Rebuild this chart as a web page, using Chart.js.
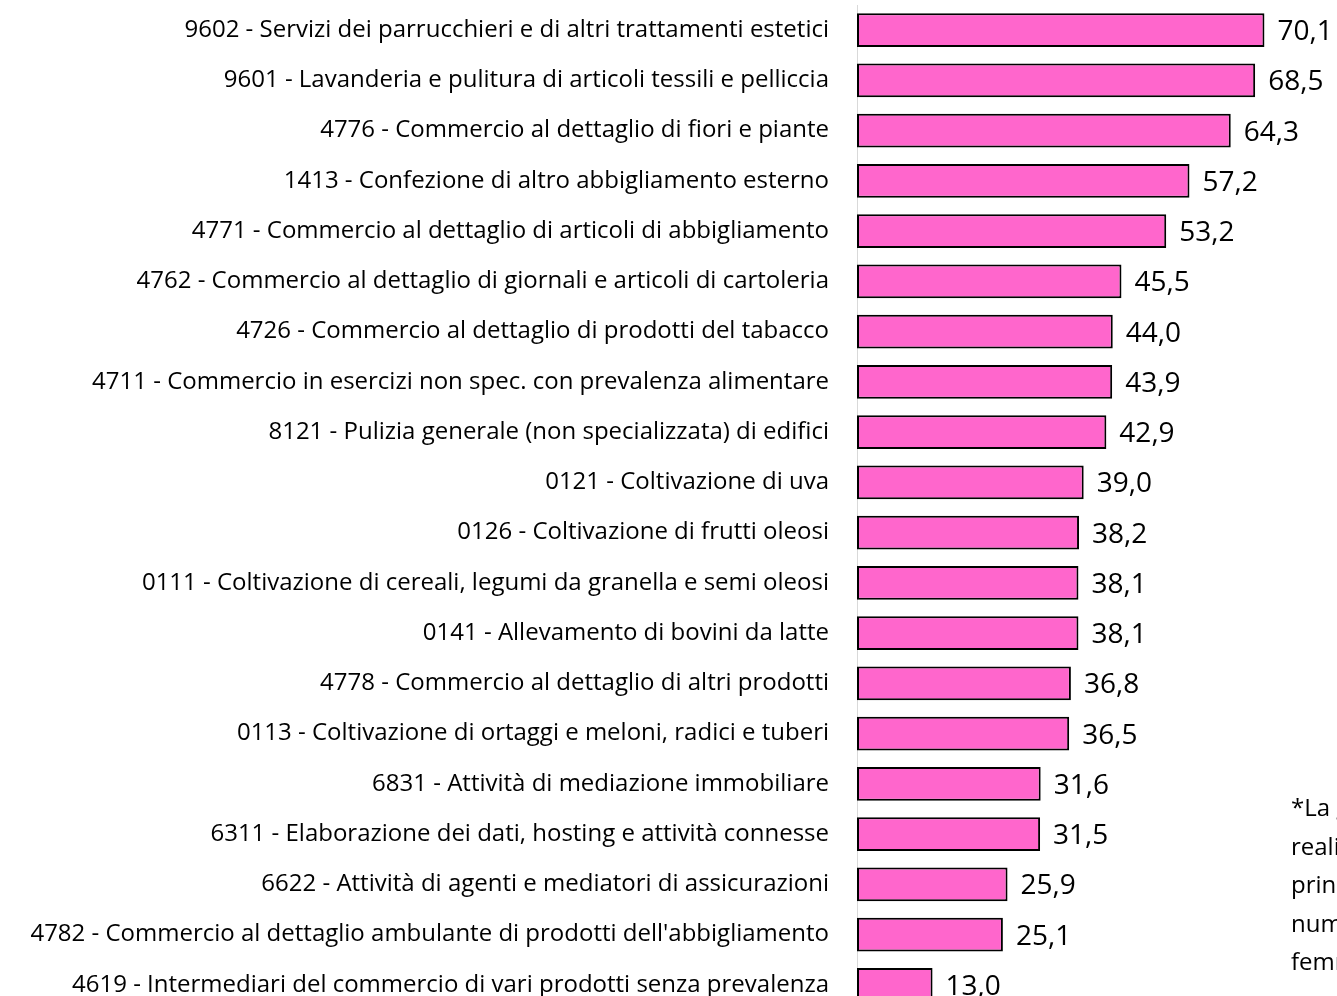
<!DOCTYPE html>
<html>
<head>
<meta charset="utf-8">
<script src="https://cdn.jsdelivr.net/npm/chart.js@4"></script>
<style>
  html, body { margin: 0; padding: 0; background: #fff; overflow: hidden; width: 1337px; height: 996px; }
  #wrap { position: absolute; left: 0; top: 0; width: 1337px; height: 1010px; }
  #note { position: absolute; left: 1291px; top: 788px; font-family: "Open Sans", sans-serif; font-size: 24px; line-height: 38.5px; color: #000; white-space: nowrap; }
</style>
</head>
<body>
<div id="wrap"><canvas id="chart"></canvas></div>
<div id="note">*La graduatoria<br>realizzata sulle<br>principali attività per<br>numero di imprese<br>femminili</div>
<script>
const categories = [
  "9602 - Servizi dei parrucchieri e di altri trattamenti estetici",
  "9601 - Lavanderia e pulitura di articoli tessili e pelliccia",
  "4776 - Commercio al dettaglio di fiori e piante",
  "1413 - Confezione di altro abbigliamento esterno",
  "4771 - Commercio al dettaglio di articoli di abbigliamento",
  "4762 - Commercio al dettaglio di giornali e articoli di cartoleria",
  "4726 - Commercio al dettaglio di prodotti del tabacco",
  "4711 - Commercio in esercizi non spec. con prevalenza alimentare",
  "8121 - Pulizia generale (non specializzata) di edifici",
  "0121 - Coltivazione di uva",
  "0126 - Coltivazione di frutti oleosi",
  "0111 - Coltivazione di cereali, legumi da granella e semi oleosi",
  "0141 - Allevamento di bovini da latte",
  "4778 - Commercio al dettaglio di altri prodotti",
  "0113 - Coltivazione di ortaggi e meloni, radici e tuberi",
  "6831 - Attività di mediazione immobiliare",
  "6311 - Elaborazione dei dati, hosting e attività connesse",
  "6622 - Attività di agenti e mediatori di assicurazioni",
  "4782 - Commercio al dettaglio ambulante di prodotti dell'abbigliamento",
  "4619 - Intermediari del commercio di vari prodotti senza prevalenza"
];
const values = [70.1, 68.5, 64.3, 57.2, 53.2, 45.5, 44.0, 43.9, 42.9, 39.0, 38.2, 38.1, 38.1, 36.8, 36.5, 31.6, 31.5, 25.9, 25.1, 13.0];

const valueLabels = {
  id: "valueLabels",
  afterDatasetsDraw(chart) {
    const ctx = chart.ctx;
    const meta = chart.getDatasetMeta(0);
    ctx.save();
    ctx.font = "28px 'Open Sans', sans-serif";
    ctx.fillStyle = "#000";
    ctx.textAlign = "left";
    ctx.textBaseline = "middle";
    meta.data.forEach((bar, i) => {
      ctx.fillText(values[i].toFixed(1).replace(".", ","), bar.x + 13, bar.y + 2);
    });
    ctx.restore();
  }
};

new Chart(document.getElementById("chart"), {
  type: "bar",
  data: {
    labels: categories,
    datasets: [{
      data: values,
      backgroundColor: "#FF66CC",
      borderColor: "#000",
      borderWidth: 2,
      borderSkipped: false,
      categoryPercentage: 1,
      barPercentage: 0.67
    }]
  },
  options: {
    indexAxis: "y",
    responsive: true,
    maintainAspectRatio: false,
    animation: false,
    layout: { padding: { top: 5, right: 15, bottom: 0, left: 0 } },
    plugins: { legend: { display: false }, tooltip: { enabled: false } },
    scales: {
      x: { display: false, min: 0, max: 80 },
      y: {
        afterFit(scale) {
          scale.width = 857;
          scale.paddingTop = 0;
          scale.paddingBottom = 0;
        },
        grid: { display: false, drawTicks: false },
        border: { display: true, color: "#d9d9d9", width: 1 },
        ticks: { color: "#000", padding: 28, autoSkip: false, font: { family: "Open Sans", size: 24 } }
      }
    }
  },
  plugins: [valueLabels]
});
</script>
</body>
</html>
